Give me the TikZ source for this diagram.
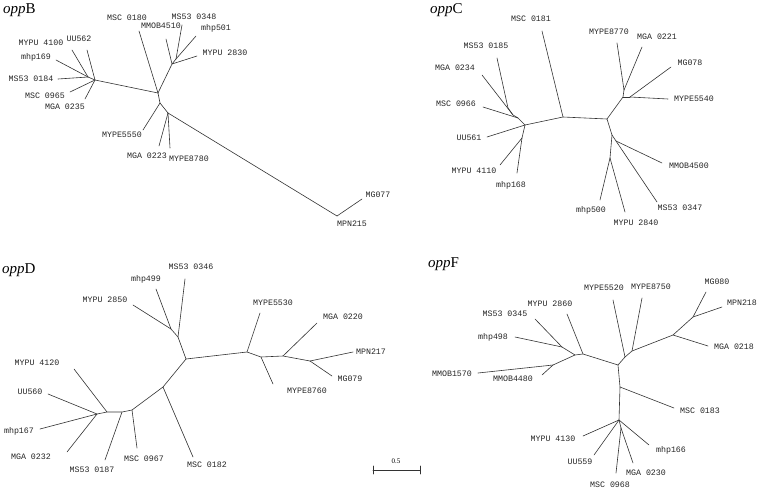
\documentclass[tikz,border=0pt]{standalone}
\usepackage{fontspec}
\setmainfont{Liberation Serif}
\newfontfamily\lblfont{Liberation Mono}
\begin{document}
\begin{tikzpicture}[x=1pt,y=-1pt,
  lbl/.style={font=\lblfont\fontsize{8.3}{9}\selectfont, inner sep=0pt, text=black!85},
  ttl/.style={font=\fontsize{15}{16}\selectfont, inner sep=0pt, anchor=base west},
  br/.style={line width=0.6pt, draw=black!80, line cap=round, line join=round}]
\useasboundingbox (0,0) rectangle (760,490);
\fill[white] (0,0) rectangle (760,490);

% ---------- titles ----------
\node[ttl] (tB) at (3,13) {\textit{opp}B};
\node[ttl] (tC) at (430,13) {\textit{opp}C};
\node[ttl] (tD) at (2,273) {\textit{opp}D};
\node[ttl] (tF) at (428,267) {\textit{opp}F};

% ---------- oppB ----------
\coordinate (B1) at (88,77);
\coordinate (B2) at (95,80);
\coordinate (Bc) at (158,93);
\coordinate (Bu) at (172,64);
\coordinate (Bu2) at (176,59);
\coordinate (Bd) at (160,103);
\coordinate (Be) at (168,113);
\coordinate (Bf) at (337,216);
\foreach \n/\x/\y/\ex/\ey/\t in {
  b1/41/43/72/50/{MYPU 4100},
  b2/36/57/56/60/{mhp169},
  b3/31/79/58/79/{MS53 0184}}{
  \node[lbl] (\n) at (\x,\y) {\t};
  \coordinate (\n e) at (\ex,\ey);
  \draw[br] (B1) -- (\n e);
}
\foreach \n/\x/\y/\ex/\ey/\t in {
  b4/79/39/87/50/{UU562},
  b5/45/96/70/92/{MSC 0965},
  b6/65/107/85/99/{MGA 0235}}{
  \node[lbl] (\n) at (\x,\y) {\t};
  \coordinate (\n e) at (\ex,\ey);
  \draw[br] (B2) -- (\n e);
}
\draw[br] (B1) -- (B2) -- (Bc);
\node[lbl] (b7) at (127,18) {MSC 0180};
\coordinate (b7e) at (139,31);
\draw[br] (Bc) -- (b7e);
\draw[br] (Bc) -- (Bu) -- (Bu2);
\node[lbl] (b8) at (161,26) {MMOB4510};
\coordinate (b8e) at (166,39);
\draw[br] (Bu) -- (b8e);
\node[lbl] (b9) at (225,53) {MYPU 2830};
\coordinate (b9e) at (197,56);
\draw[br] (Bu) -- (b9e);
\node[lbl] (b10) at (194,17) {MS53 0348};
\coordinate (b10e) at (182,25);
\draw[br] (Bu2) -- (b10e);
\node[lbl] (b11) at (216,28) {mhp501};
\coordinate (b11e) at (196,36);
\draw[br] (Bu2) -- (b11e);
\draw[br] (Bc) -- (Bd) -- (Be) -- (Bf);
\node[lbl] (b12) at (122,135) {MYPE5550};
\coordinate (b12e) at (143,130);
\draw[br] (Bd) -- (b12e);
\node[lbl] (b13) at (147,156) {MGA 0223};
\coordinate (b13e) at (159,146);
\draw[br] (Be) -- (b13e);
\node[lbl] (b14) at (189,159) {MYPE8780};
\coordinate (b14e) at (170,148);
\draw[br] (Be) -- (b14e);
\node[lbl] (b15) at (352,224) {MPN215};
\node[lbl] (b16) at (378,195) {MG077};
\coordinate (b16e) at (362,199);
\draw[br] (Bf) -- (b16e);

% ---------- oppC ----------
\coordinate (Cc) at (563,117);
\coordinate (Cl) at (525,125);
\coordinate (Cl0) at (518,118);
\coordinate (Cl1) at (513,115);
\coordinate (Cl2) at (508,108);
\coordinate (Cl3) at (522,138);
\coordinate (Cr) at (607,119);
\coordinate (Cr1) at (623,97);
\coordinate (Cr2) at (624,90);
\coordinate (Cr4) at (630,97);
\coordinate (Cr5) at (612,135);
\coordinate (Cr6) at (616,141);
\coordinate (Cr7) at (610,158);
\draw[br] (Cl) -- (Cc) -- (Cr);
\draw[br] (Cl) -- (Cl0) -- (Cl1) -- (Cl2);
\draw[br] (Cl) -- (Cl3);
\draw[br] (Cr) -- (Cr1) -- (Cr2);
\draw[br] (Cr1) -- (Cr4);
\draw[br] (Cr) -- (Cr5) -- (Cr6);
\draw[br] (Cr5) -- (Cr7);
\foreach \n/\x/\y/\ex/\ey/\p/\t in {
  c1/531/19/542/31/Cc/{MSC 0181},
  c2/486/46/497/58/Cl2/{MS53 0185},
  c3/455/68/482/75/Cl1/{MGA 0234},
  c4/456/104/483/107/Cl0/{MSC 0966},
  c5/469/138/487/137/Cl/{UU561},
  c6/474/171/500/165/Cl3/{MYPU 4110},
  c7/511/185/517/173/Cl3/{mhp168},
  c8/609/32/617/43/Cr2/{MYPE8770},
  c9/657/37/642/47/Cr2/{MGA 0221},
  c10/690/63/671/67/Cr4/{MG078},
  c11/694/99/668/99/Cr4/{MYPE5540},
  c12/689/166/662/163/Cr6/{MMOB4500},
  c13/680/208/657/202/Cr6/{MS53 0347},
  c14/591/210/600/200/Cr7/{mhp500},
  c15/636/223/625/212/Cr7/{MYPU 2840}}{
  \node[lbl] (\n) at (\x,\y) {\t};
  \coordinate (\n e) at (\ex,\ey);
  \draw[br] (\p) -- (\n e);
}

% ---------- oppD ----------
\coordinate (Dc) at (186,359);
\coordinate (Du) at (178,337);
\coordinate (Du1) at (171,329);
\coordinate (Dr1) at (247,352);
\coordinate (Dr2) at (261,357);
\coordinate (Dr3) at (283,356);
\coordinate (Dr4) at (310,361);
\coordinate (Dl1) at (163,387);
\coordinate (Dl2) at (132,410);
\coordinate (Dl3) at (122,412);
\coordinate (Dl4) at (107,412);
\coordinate (Dl5) at (97,414);
\draw[br] (Du1) -- (Du) -- (Dc) -- (Dr1) -- (Dr2) -- (Dr3) -- (Dr4);
\draw[br] (Dc) -- (Dl1) -- (Dl2) -- (Dl3) -- (Dl4) -- (Dl5);
\foreach \n/\x/\y/\ex/\ey/\p/\t in {
  d1/191/267/185/279/Du/{MS53 0346},
  d2/146/279/156/289/Du1/{mhp499},
  d3/105/300/133/305/Du1/{MYPU 2850},
  d4/273/303/260/313/Dr1/{MYPE5530},
  d5/343/317/317/323/Dr3/{MGA 0220},
  d6/371/352/353/352/Dr4/{MPN217},
  d7/350/379/332/376/Dr4/{MG079},
  d8/307/391/273/384/Dr2/{MYPE8760},
  d9/207/465/193/457/Dl1/{MSC 0182},
  d10/144/459/137/448/Dl2/{MSC 0967},
  d11/92/470/105/460/Dl3/{MS53 0187},
  d12/37/363/74/369/Dl4/{MYPU 4120},
  d13/30/392/48/394/Dl5/{UU560},
  d14/19/431/40/429/Dl5/{mhp167},
  d15/31/457/67/452/Dl5/{MGA 0232}}{
  \node[lbl] (\n) at (\x,\y) {\t};
  \coordinate (\n e) at (\ex,\ey);
  \draw[br] (\p) -- (\n e);
}

% ---------- scale bar ----------
\coordinate (sL) at (373,470);
\coordinate (sR) at (420,470);
\draw[br] (sL) -- (sR);
\draw[br] ([yshift=-4pt]sL) -- ([yshift=4pt]sL);
\draw[br] ([yshift=-4pt]sR) -- ([yshift=4pt]sR);
\node[font=\fontsize{7}{8}\selectfont, inner sep=0pt] (sc) at (396,461) {0.5};

% ---------- oppF ----------
\coordinate (F1) at (583,354);
\coordinate (F2) at (575,355);
\coordinate (F3) at (562,347);
\coordinate (F4) at (553,365);
\coordinate (Fc) at (618,365);
\coordinate (Fu1) at (625,357);
\coordinate (Fu2) at (632,351);
\coordinate (Fu3) at (673,335);
\coordinate (Fu4) at (693,317);
\coordinate (Fd1) at (620,387);
\coordinate (Fd2) at (619,420);
\coordinate (Fd3) at (621,428);
\draw[br] (F3) -- (F2) -- (F1) -- (Fc);
\draw[br] (F2) -- (F4);
\draw[br] (Fc) -- (Fu1) -- (Fu2) -- (Fu3) -- (Fu4);
\draw[br] (Fc) -- (Fd1) -- (Fd2) -- (Fd3);
\foreach \n/\x/\y/\ex/\ey/\p/\t in {
  f1/550/304/567/314/F1/{MYPU 2860},
  f2/505/314/535/319/F3/{MS53 0345},
  f3/493/337/515/337/F3/{mhp498},
  f4/452/374/478/373/F4/{MMOB1570},
  f5/513/379/542/375/F4/{MMOB4480},
  f6/604/288/613/300/Fu1/{MYPE5520},
  f7/651/287/642/298/Fu2/{MYPE8750},
  f8/717/282/706/292/Fu4/{MG080},
  f9/742/303/722/307/Fu4/{MPN218},
  f10/734/347/708/346/Fu3/{MGA 0218},
  f11/700/411/674/408/Fd1/{MSC 0183},
  f12/671/450/649/445/Fd2/{mhp166},
  f13/646/473/633/463/Fd3/{MGA 0230},
  f14/610/485/616/473/Fd3/{MSC 0968},
  f15/580/462/594/455/Fd2/{UU559},
  f16/553/439/583/436/Fd2/{MYPU 4130}}{
  \node[lbl] (\n) at (\x,\y) {\t};
  \coordinate (\n e) at (\ex,\ey);
  \draw[br] (\p) -- (\n e);
}
\end{tikzpicture}
\end{document}
